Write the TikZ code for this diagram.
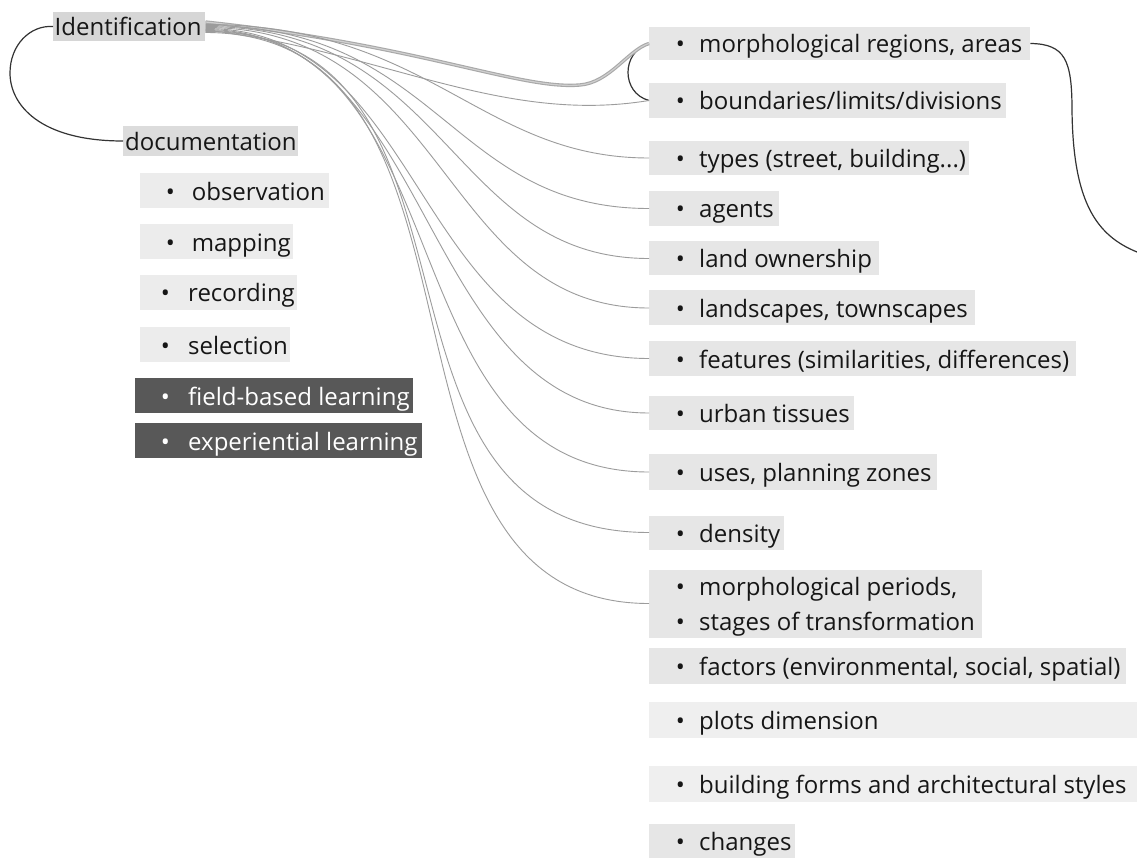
\documentclass[tikz,border=0pt]{standalone}
\usepackage{fontspec}
\setmainfont{Open Sans}
\definecolor{lnc}{HTML}{9C9C9C}
\definecolor{thk}{HTML}{A8A8A8}
\definecolor{thkin}{HTML}{CFCFCF}
\definecolor{txt}{HTML}{161616}
\definecolor{crv}{HTML}{333333}
\definecolor{idfill}{HTML}{D6D6D6}
\definecolor{docfill}{HTML}{DCDCDC}
\definecolor{lfill}{HTML}{ECECEC}
\definecolor{rfill}{HTML}{E6E6E6}
\definecolor{pfill}{HTML}{EFEFEF}
\definecolor{dfill}{HTML}{585858}
\newcommand\itm[4]{\makebox[#1pt][l]{\hspace*{#2pt}\makebox[#3pt][l]{•}#4}}
\tikzset{
  bx/.style={inner sep=0pt, anchor=west, text height=19pt, text depth=0pt,
    text=txt, font=\fontsize{24}{29}\selectfont},
  fan/.style={draw=lnc, line width=0.9pt},
  blk/.style={draw=crv, line width=1.2pt},
}
\begin{document}
\begin{tikzpicture}[x=1pt,y=-1pt]
\useasboundingbox[fill=white] (0,0) rectangle (1137,858);

% left column
\node[bx, fill=idfill, minimum height=29pt] (idn) at (53,26.5) {\makebox[152pt][l]{\hspace*{1.5pt}Identification}};
\node[bx, fill=docfill, minimum height=30pt] (doc) at (123,141) {\makebox[175pt][l]{\hspace*{2pt}documentation}};
\node[bx, fill=lfill, minimum height=35pt] (obs) at (140,191) {\itm{189}{25.6}{26}{observation}};
\node[bx, fill=lfill, minimum height=35pt] (map) at (140,242) {\itm{153}{25.6}{26}{mapping}};
\node[bx, fill=lfill, minimum height=35pt] (rec) at (140,292.5) {\itm{157}{20.6}{27.4}{recording}};
\node[bx, fill=lfill, minimum height=35pt] (sel) at (140,344.5) {\itm{150}{20.6}{27.4}{selection}};
\node[bx, fill=dfill, text=white, minimum height=35pt] (fbl) at (135,395.5) {\itm{278}{25.6}{27.4}{field-based learning}};
\node[bx, fill=dfill, text=white, minimum height=35pt] (exl) at (135,440.5) {\itm{287}{25.6}{27.4}{experiential learning}};

% right column
\node[bx, fill=rfill, minimum height=33pt] (r1) at (649,43.5) {\itm{381}{26.6}{23.4}{morphological regions, areas}};
\node[bx, fill=rfill, minimum height=35pt] (r2) at (649,100.5) {\itm{357}{26.6}{23.4}{boundaries/limits/divisions}};
\node[bx, fill=rfill, minimum height=34pt] (r3) at (649,158) {\itm{320}{26.6}{23.4}{types (street, building...)}};
\node[bx, fill=rfill, minimum height=35pt] (r4) at (649,208.5) {\itm{130}{26.6}{23.4}{agents}};
\node[bx, fill=rfill, minimum height=34pt] (r5) at (649,258.5) {\itm{230}{26.6}{23.4}{land ownership}};
\node[bx, fill=rfill, minimum height=35pt] (r6) at (649,308) {\itm{326}{26.6}{23.4}{landscapes, townscapes}};
\node[bx, fill=rfill, minimum height=35pt] (r7) at (649,358.5) {\itm{427}{26.6}{23.4}{features (similarities, differences)}};
\node[bx, fill=rfill, minimum height=34pt] (r8) at (649,413) {\itm{205}{26.6}{23.4}{urban tissues}};
\node[bx, fill=rfill, minimum height=36pt] (r9) at (649,472) {\itm{288}{26.6}{23.4}{uses, planning zones}};
\node[bx, fill=rfill, minimum height=34pt] (r10) at (649,532.5) {\itm{135}{26.6}{23.4}{density}};
\node[inner sep=0pt, anchor=west, text=txt, fill=rfill, minimum height=68pt, align=left,
  font=\fontsize{24}{35}\selectfont] (r11) at (649,603.5)
  {\rule{0pt}{24pt}\itm{333}{26.6}{23.4}{morphological periods,}\\\itm{333}{26.6}{23.4}{stages of transformation}};
\node[bx, fill=rfill, minimum height=36pt] (r12) at (649,666) {\itm{477}{26.6}{23.4}{factors (environmental, social, spatial)}};
\node[bx, fill=pfill, minimum height=36pt] (r13) at (649,720) {\itm{488}{26.6}{23.4}{plots dimension}};
\node[bx, fill=pfill, minimum height=36pt] (r14) at (649,784) {\itm{488}{26.6}{23.4}{building forms and architectural styles}};
\node[bx, fill=rfill, minimum height=35pt] (r15) at (649,841) {\itm{146}{26.6}{23.4}{changes}};

\coordinate (off) at (1137,252);

% black curves
\draw[blk] (idn.west) .. controls (30,25) and (10,45) .. (10,73) .. controls (10,105) and (40,141) .. (doc.west);
\draw[blk] (r1.west) .. controls (621,52) and (621,93) .. (r2.west);
\draw[blk] (r1.east) .. controls (1065,44) and (1072,60) .. (1072,110) .. controls (1073,200) and (1095,235) .. (off);

% thick connector
\draw[draw=thk, line width=3.4pt] ([yshift=4.5pt]idn.east) .. controls (420,45) and (520,90) .. (580,85) .. controls (610,82.5) and (628,50) .. (r1.west);
\draw[draw=thkin, line width=1.2pt] ([yshift=4.5pt]idn.east) .. controls (420,45) and (520,90) .. (580,85) .. controls (610,82.5) and (628,50) .. (r1.west);

% fan connectors
\draw[fan] ([yshift=-3.5pt]idn.east) .. controls (380,50) and (500,125) .. (r2.west);
\draw[fan] ([yshift=2pt]idn.east) .. controls (430,24.5) and (480,158) .. (r3.west);
\draw[fan] ([yshift=1pt]idn.east) .. controls (440,25.5) and (450,208.5) .. (r4.west);
\draw[fan] ([yshift=0pt]idn.east) .. controls (450,26.5) and (450,258.5) .. (r5.west);
\draw[fan] ([yshift=-1pt]idn.east) .. controls (450,27.5) and (440,308) .. (r6.west);
\draw[fan] ([yshift=-2pt]idn.east) .. controls (430,28.5) and (410,358.5) .. (r7.west);
\draw[fan] ([yshift=-3pt]idn.east) .. controls (440,29.5) and (415,413) .. (r8.west);
\draw[fan] ([yshift=-4pt]idn.east) .. controls (470,30.5) and (380,472) .. (r9.west);
\draw[fan] ([yshift=-5pt]idn.east) .. controls (515,31.5) and (335,532.5) .. (r10.west);
\draw[fan] ([yshift=-6pt]idn.east) .. controls (520,32.5) and (345,603.5) .. (r11.west);
\end{tikzpicture}
\end{document}
